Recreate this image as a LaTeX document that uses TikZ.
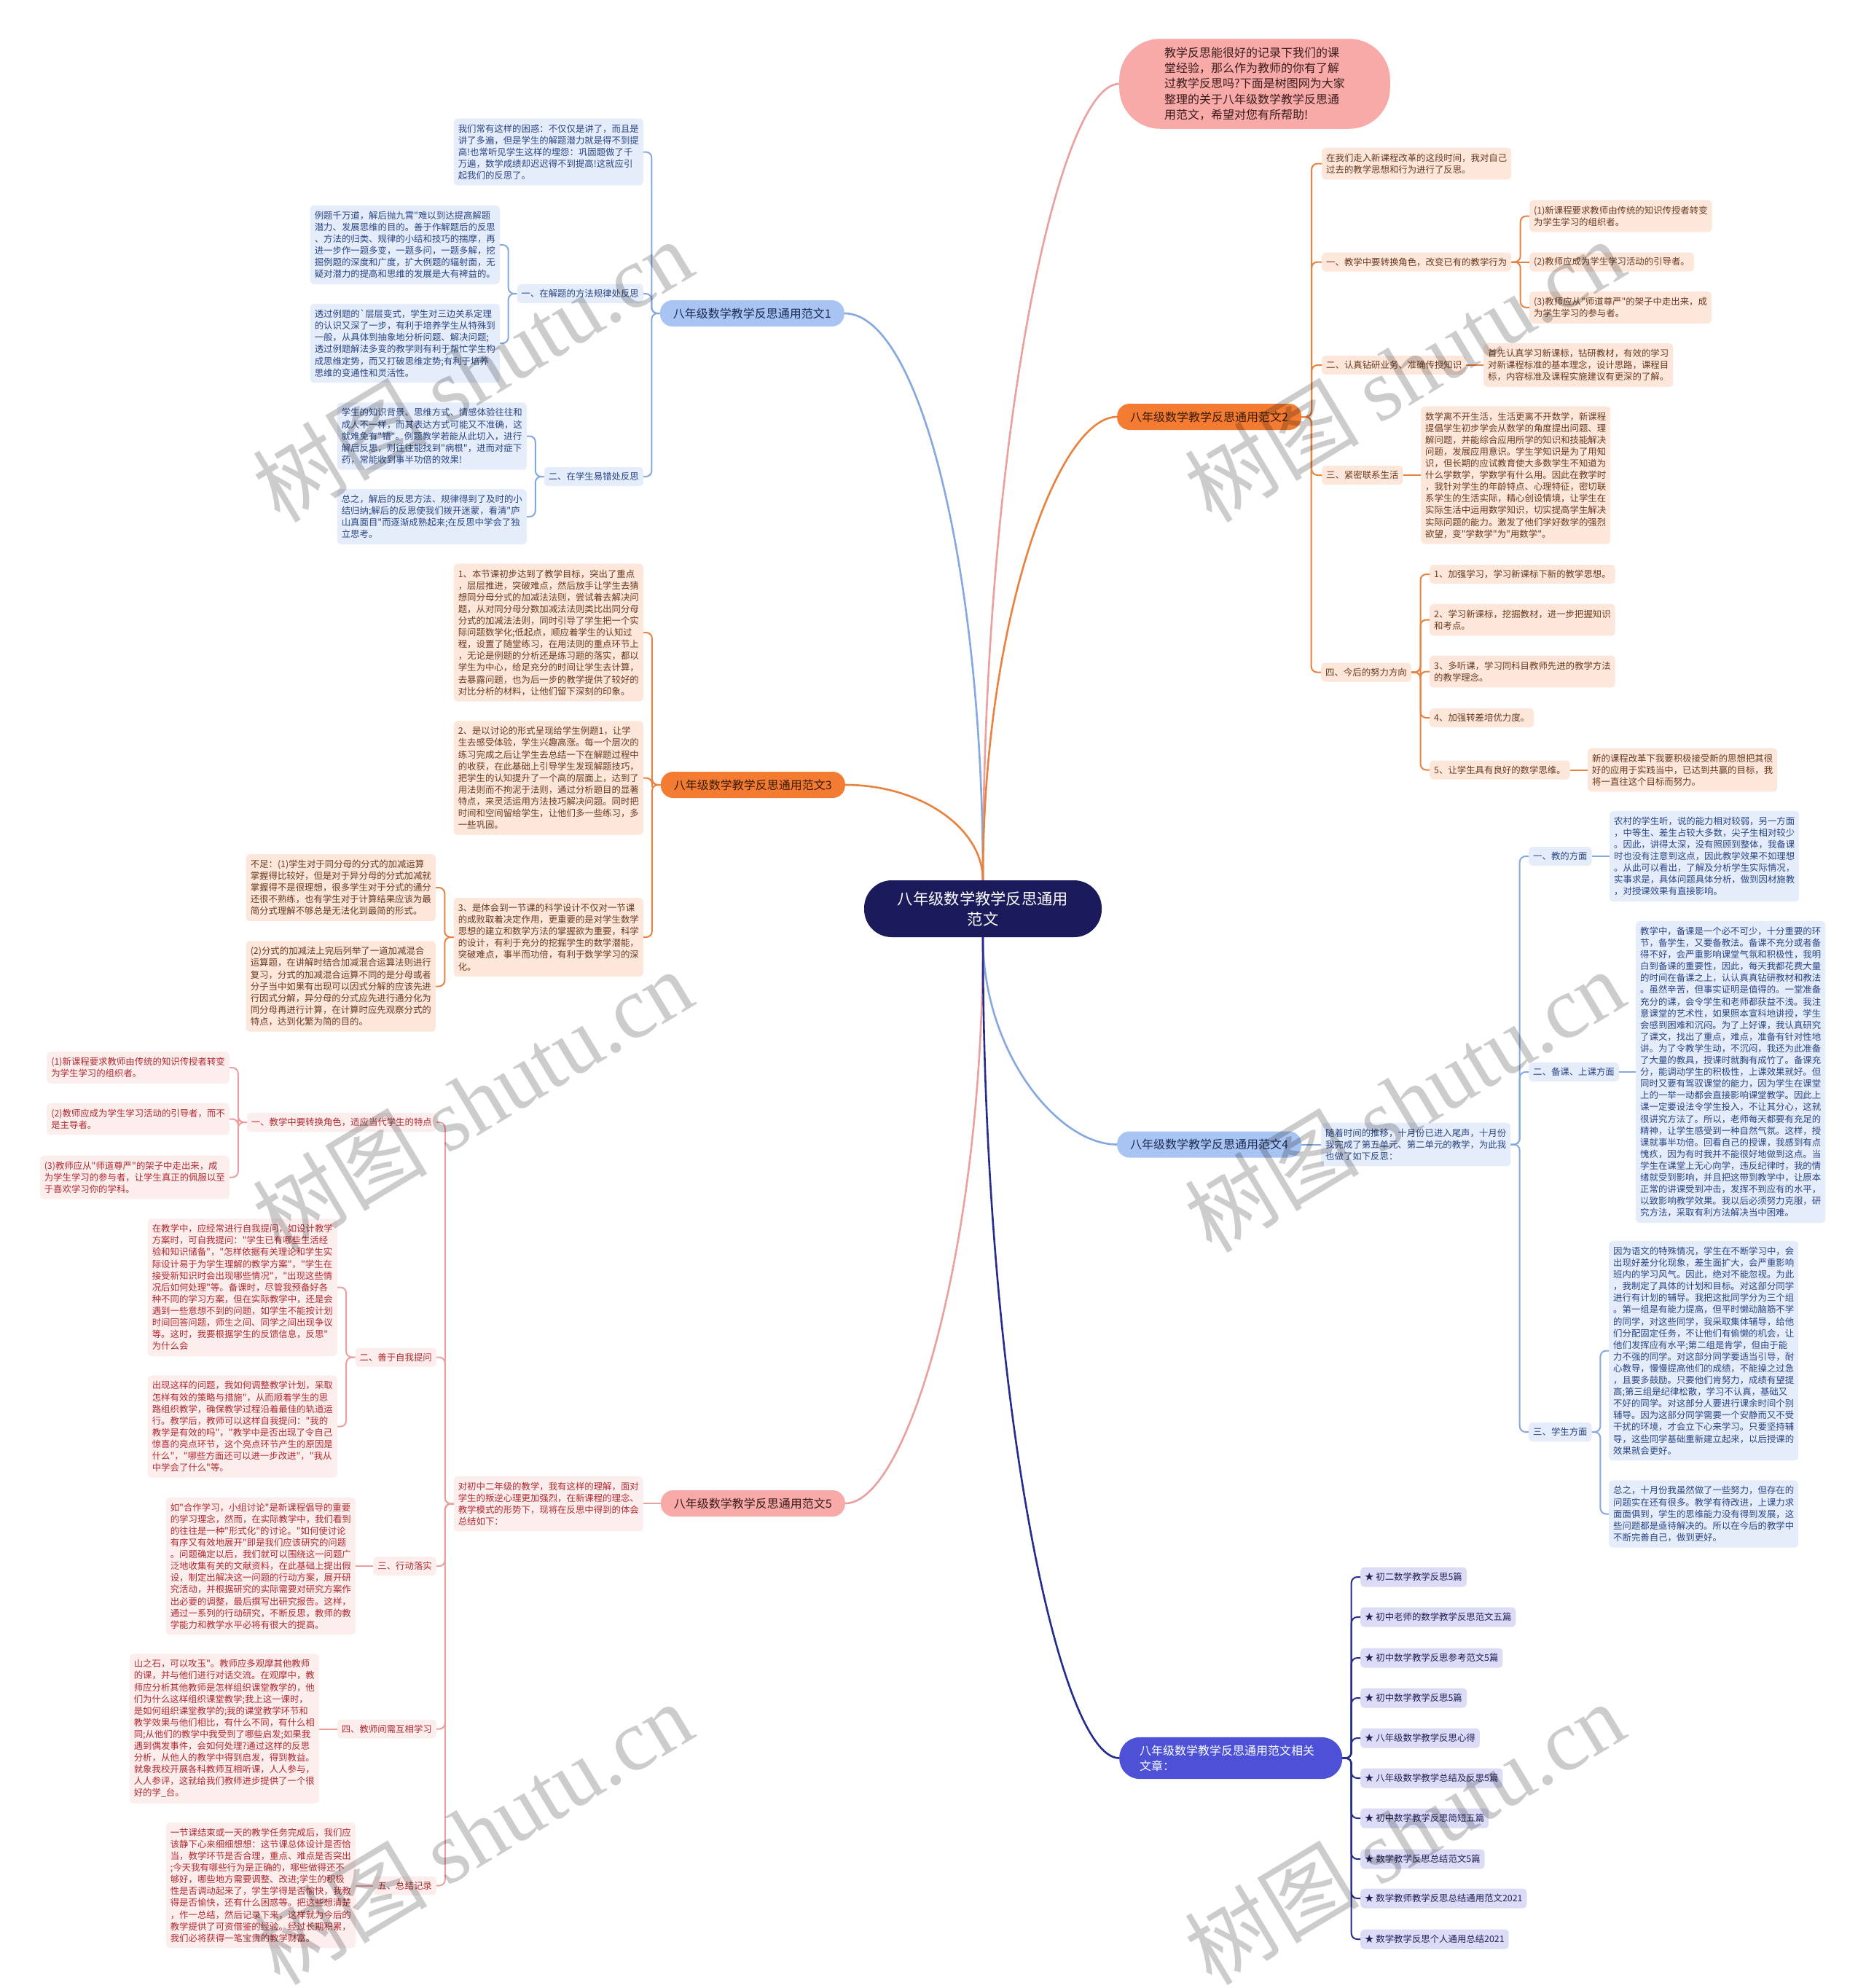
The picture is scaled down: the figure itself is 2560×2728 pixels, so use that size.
\documentclass[tikz,border=0pt]{standalone}
\usepackage{fontspec}
\newfontfamily\cjkf{Noto Sans CJK SC}
\newfontfamily\wmserif{Liberation Serif}
\usetikzlibrary{calc}
\definecolor{cBline}{HTML}{86A8E0}
\definecolor{cBfill}{HTML}{E5EDFB}
\definecolor{cBtext}{HTML}{2A4585}
\definecolor{cBlab}{HTML}{A8C4F2}
\definecolor{cBlabtext}{HTML}{1D2B55}
\definecolor{cOline}{HTML}{E8823F}
\definecolor{cOfill}{HTML}{FDE7DA}
\definecolor{cOtext}{HTML}{6A3A20}
\definecolor{cOlab}{HTML}{F47C32}
\definecolor{cOlabtext}{HTML}{3A1A08}
\definecolor{cPline}{HTML}{EBA0A0}
\definecolor{cPfill}{HTML}{FDEEEE}
\definecolor{cPtext}{HTML}{B02A30}
\definecolor{cPlab}{HTML}{F8AAA9}
\definecolor{cPlabtext}{HTML}{3A1C1C}
\definecolor{cNavy}{HTML}{1B1A5B}
\definecolor{cRlab}{HTML}{4C51D6}
\definecolor{cRline}{HTML}{262C8C}
\definecolor{cRfill}{HTML}{DCDCF6}
\definecolor{cRtext}{HTML}{20205A}
\newcommand\myfS{\cjkf\fontsize{12.4pt}{16.1pt}\selectfont}
\newcommand\myfM{\cjkf\fontsize{16pt}{21.3pt}\selectfont}
\newcommand\myfL{\cjkf\fontsize{21.3pt}{28pt}\selectfont}
\newcommand\lcon[3]{\draw[#1] (#2.west) -| ($(#2.west)!.5!(#3.east)$) |- (#3.east);}
\newcommand\rcon[3]{\draw[#1] (#2.east) -| ($(#2.east)!.5!(#3.west)$) |- (#3.west);}
\newcommand\lstr[3]{\draw[#1] (#2.west) -- (#2.west -| #3.east);}
\newcommand\rstr[3]{\draw[#1] (#2.east) -- (#2.east -| #3.west);}
\tikzset{
  leafbase/.style={inner xsep=6pt, inner ysep=8pt, rounded corners=5pt, align=left, font=\myfS},
  bleaf/.style={leafbase, fill=cBfill, text=cBtext},
  oleaf/.style={leafbase, fill=cOfill, text=cOtext},
  pleaf/.style={leafbase, fill=cPfill, text=cPtext},
  rleaf/.style={leafbase, fill=cRfill, text=cRtext, minimum height=27pt, inner ysep=3pt},
  blev/.style={bleaf, minimum height=26pt, inner ysep=3pt},
  olev/.style={oleaf, minimum height=26pt, inner ysep=3pt},
  plev/.style={pleaf, minimum height=26pt, inner ysep=3pt},
  labbase/.style={inner xsep=18pt, inner ysep=2pt, minimum height=36pt, rounded corners=17pt, font=\myfM},
  blab/.style={labbase, fill=cBlab, text=cBlabtext},
  olab/.style={labbase, fill=cOlab, text=cOlabtext},
  plab/.style={labbase, fill=cPlab, text=cPlabtext},
  centre/.style={fill=cNavy, text=white, font=\myfL, align=center, minimum width=326pt, minimum height=78pt, rounded corners=38pt, inner sep=0pt},
  bubble/.style={fill=cPlab, text=cPlabtext, font=\myfM, align=left, inner xsep=62pt, inner ysep=11.5pt, rounded corners=56pt},
  rlab/.style={fill=cRlab, text=white, font=\myfM, align=left, text width=250pt, inner xsep=28pt, inner ysep=10.5pt, rounded corners=28pt},
  bl/.style={draw=cBline, line width=2pt, rounded corners=8pt},
  ol/.style={draw=cOline, line width=2pt, rounded corners=8pt},
  pl/.style={draw=cPline, line width=2pt, rounded corners=8pt},
  rl/.style={draw=cRline, line width=2pt, rounded corners=8pt},
  mainline/.style={line width=2.6pt},
  wm/.style={text=black, text opacity=0.2, font=\cjkf\fontsize{120pt}{120pt}\selectfont, rotate=31, inner sep=0pt}
}
\begin{document}
\begin{tikzpicture}[x=1pt,y=-1pt]
\useasboundingbox (0,0) rectangle (2560,2728);
\fill[white] (0,0) rectangle (2560,2728);

% ---------- centre and top bubble ----------
\node[centre] (C) at (1349,1247) {八年级数学教学反思通用\\范文};
\node[bubble, anchor=west] (T) at (1536,115) {教学反思能很好的记录下我们的课\\堂经验，那么作为教师的你有了解\\过教学反思吗?下面是树图网为大家\\整理的关于八年级数学教学反思通\\用范文，希望对您有所帮助!};

% ---------- branch 1 ----------
\node[blab, anchor=east] (B1) at (1159,430) {八年级数学教学反思通用范文1};
\node[bleaf, anchor=east] (B1i) at (883,208.5) {我们常有这样的困惑：不仅仅是讲了，而且是\\讲了多遍，但是学生的解题潜力就是得不到提\\高!也常听见学生这样的埋怨：巩固题做了千\\万遍，数学成绩却迟迟得不到提高!这就应引\\起我们的反思了。};
\node[blev, anchor=east] (B1a) at (883,403) {一、在解题的方法规律处反思};
\node[bleaf, anchor=east] (B1a1) at (686,336) {例题千万道，解后抛九霄"难以到达提高解题\\潜力、发展思维的目的。善于作解题后的反思\\、方法的归类、规律的小结和技巧的揣摩，再\\进一步作一题多变，一题多问，一题多解，挖\\掘例题的深度和广度，扩大例题的辐射面，无\\疑对潜力的提高和思维的发展是大有裨益的。};
\node[bleaf, anchor=east] (B1a2) at (686,471) {透过例题的\symbol{96}层层变式，学生对三边关系定理\\的认识又深了一步，有利于培养学生从特殊到\\一般，从具体到抽象地分析问题、解决问题;\\透过例题解法多变的教学则有利于帮忙学生构\\成思维定势，而又打破思维定势;有利于培养\\思维的变通性和灵活性。};
\node[blev, anchor=east] (B1b) at (883,654) {二、在学生易错处反思};
\node[bleaf, anchor=east] (B1b1) at (723,598.5) {学生的知识背景、思维方式、情感体验往往和\\成人不一样，而其表达方式可能又不准确，这\\就难免有"错"。例题教学若能从此切入，进行\\解后反思，则往往能找到"病根"，进而对症下\\药，常能收到事半功倍的效果!};
\node[bleaf, anchor=east] (B1b2) at (723,709) {总之，解后的反思方法、规律得到了及时的小\\结归纳;解后的反思使我们拨开迷蒙，看清"庐\\山真面目"而逐渐成熟起来;在反思中学会了独\\立思考。};

% ---------- branch 3 ----------
\node[olab, anchor=east] (B3) at (1160,1077) {八年级数学教学反思通用范文3};
\node[oleaf, anchor=east] (B31) at (883,868) {1、本节课初步达到了教学目标，突出了重点\\，层层推进，突破难点，然后放手让学生去猜\\想同分母分式的加减法法则，尝试着去解决问\\题，从对同分母分数加减法法则类比出同分母\\分式的加减法法则，同时引导了学生把一个实\\际问题数学化;低起点，顺应着学生的认知过\\程，设置了随堂练习，在用法则的重点环节上\\，无论是例题的分析还是练习题的落实，都以\\学生为中心，给足充分的时间让学生去计算，\\去暴露问题，也为后一步的教学提供了较好的\\对比分析的材料，让他们留下深刻的印象。};
\node[oleaf, anchor=east] (B32) at (883,1067.5) {2、是以讨论的形式呈现给学生例题1，让学\\生去感受体验，学生兴趣高涨。每一个层次的\\练习完成之后让学生去总结一下在解题过程中\\的收获，在此基础上引导学生发现解题技巧，\\把学生的认知提升了一个高的层面上，达到了\\用法则而不拘泥于法则，通过分析题目的显著\\特点，来灵活运用方法技巧解决问题。同时把\\时间和空间留给学生，让他们多一些练习，多\\一些巩固。};
\node[oleaf, anchor=east] (B33) at (883,1286) {3、是体会到一节课的科学设计不仅对一节课\\的成败取着决定作用，更重要的是对学生数学\\思想的建立和数学方法的掌握欲为重要，科学\\的设计，有利于充分的挖掘学生的数学潜能，\\突破难点，事半而功倍，有利于数学学习的深\\化。};
\node[oleaf, anchor=east] (B33a) at (598,1218) {不足：(1)学生对于同分母的分式的加减运算\\掌握得比较好，但是对于异分母的分式加减就\\掌握得不是很理想，很多学生对于分式的通分\\还很不熟练，也有学生对于计算结果应该为最\\简分式理解不够总是无法化到最简的形式。};
\node[oleaf, anchor=east] (B33b) at (598,1353.5) {(2)分式的加减法上完后列举了一道加减混合\\运算题，在讲解时结合加减混合运算法则进行\\复习，分式的加减混合运算不同的是分母或者\\分子当中如果有出现可以因式分解的应该先进\\行因式分解，异分母的分式应先进行通分化为\\同分母再进行计算，在计算时应先观察分式的\\特点，达到化繁为简的目的。};

% ---------- branch 5 ----------
\node[plab, anchor=east] (B5) at (1160,2063) {八年级数学教学反思通用范文5};
\node[pleaf, anchor=east] (B5i) at (883,2063.5) {对初中二年级的教学，我有这样的理解，面对\\学生的叛逆心理更加强烈，在新课程的理念、\\教学模式的形势下，现将在反思中得到的体会\\总结如下：};
\node[plev, anchor=east] (B5a) at (599,1540) {一、教学中要转换角色，适应当代学生的特点};
\node[pleaf, anchor=east] (B5a1) at (315,1465) {(1)新课程要求教师由传统的知识传授者转变\\为学生学习的组织者。};
\node[pleaf, anchor=east] (B5a2) at (315,1535.5) {(2)教师应成为学生学习活动的引导者，而不\\是主导者。};
\node[pleaf, anchor=east] (B5a3) at (315,1615.5) {(3)教师应从"师道尊严"的架子中走出来，成\\为学生学习的参与者，让学生真正的佩服以至\\于喜欢学习你的学科。};
\node[plev, anchor=east] (B5b) at (599,1862.5) {二、善于自我提问};
\node[pleaf, anchor=east] (B5b1) at (463,1766.5) {在教学中，应经常进行自我提问，如设计教学\\方案时，可自我提问："学生已有哪些生活经\\验和知识储备"，"怎样依据有关理论和学生实\\际设计易于为学生理解的教学方案"，"学生在\\接受新知识时会出现哪些情况"，"出现这些情\\况后如何处理"等。备课时，尽管我预备好各\\种不同的学习方案，但在实际教学中，还是会\\遇到一些意想不到的问题，如学生不能按计划\\时间回答问题，师生之间、同学之间出现争议\\等。这时，我要根据学生的反馈信息，反思"\\为什么会};
\node[pleaf, anchor=east] (B5b2) at (463,1957.5) {出现这样的问题，我如何调整教学计划，采取\\怎样有效的策略与措施"，从而顺着学生的思\\路组织教学，确保教学过程沿着最佳的轨道运\\行。教学后，教师可以这样自我提问："我的\\教学是有效的吗"，"教学中是否出现了令自己\\惊喜的亮点环节，这个亮点环节产生的原因是\\什么"，"哪些方面还可以进一步改进"，"我从\\中学会了什么"等。};
\node[plev, anchor=east] (B5c) at (599,2149) {三、行动落实};
\node[pleaf, anchor=east] (B5c1) at (488,2149) {如"合作学习，小组讨论"是新课程倡导的重要\\的学习理念，然而，在实际教学中，我们看到\\的往往是一种"形式化"的讨论。"如何使讨论\\有序又有效地展开"即是我们应该研究的问题\\。问题确定以后，我们就可以围绕这一问题广\\泛地收集有关的文献资料，在此基础上提出假\\设，制定出解决这一问题的行动方案，展开研\\究活动，并根据研究的实际需要对研究方案作\\出必要的调整，最后撰写出研究报告。这样，\\通过一系列的行动研究，不断反思，教师的教\\学能力和教学水平必将有很大的提高。};
\node[plev, anchor=east] (B5d) at (599,2372.5) {四、教师间需互相学习};
\node[pleaf, anchor=east] (B5d1) at (438,2372) {山之石，可以攻玉"。教师应多观摩其他教师\\的课，并与他们进行对话交流。在观摩中，教\\师应分析其他教师是怎样组织课堂教学的，他\\们为什么这样组织课堂教学;我上这一课时，\\是如何组织课堂教学的;我的课堂教学环节和\\教学效果与他们相比，有什么不同，有什么相\\同;从他们的教学中我受到了哪些启发;如果我\\遇到偶发事件，会如何处理?通过这样的反思\\分析，从他人的教学中得到启发，得到教益。\\就象我校开展各科教师互相听课，人人参与，\\人人参评，这就给我们教师进步提供了一个很\\好的学\_台。};
\node[plev, anchor=east] (B5e) at (599,2587.5) {五、总结记录};
\node[pleaf, anchor=east] (B5e1) at (488,2587) {一节课结束或一天的教学任务完成后，我们应\\该静下心来细细想想：这节课总体设计是否恰\\当，教学环节是否合理，重点、难点是否突出\\;今天我有哪些行为是正确的，哪些做得还不\\够好，哪些地方需要调整、改进;学生的积极\\性是否调动起来了，学生学得是否愉快，我教\\得是否愉快，还有什么困惑等。把这些想清楚\\，作一总结，然后记录下来，这样就为今后的\\教学提供了可资借鉴的经验。经过长期积累，\\我们必将获得一笔宝贵的教学财富。};

% ---------- branch 2 ----------
\node[olab, anchor=west] (B2) at (1533,572) {八年级数学教学反思通用范文2};
\node[oleaf, anchor=west] (B2i) at (1814,224.5) {在我们走入新课程改革的这段时间，我对自己\\过去的教学思想和行为进行了反思。};
\node[olev, anchor=west] (B2a) at (1814,359.5) {一、教学中要转换角色，改变已有的教学行为};
\node[oleaf, anchor=west] (B2a1) at (2099,296.5) {(1)新课程要求教师由传统的知识传授者转变\\为学生学习的组织者。};
\node[olev, anchor=west] (B2a2) at (2099,359.5) {(2)教师应成为学生学习活动的引导者。};
\node[oleaf, anchor=west] (B2a3) at (2099,422) {(3)教师应从"师道尊严"的架子中走出来，成\\为学生学习的参与者。};
\node[olev, anchor=west] (B2b) at (1814,501) {二、认真钻研业务、准确传授知识};
\node[oleaf, anchor=west] (B2b1) at (2036,501) {首先认真学习新课标，钻研教材，有效的学习\\对新课程标准的基本理念，设计思路，课程目\\标，内容标准及课程实施建议有更深的了解。};
\node[olev, anchor=west] (B2c) at (1814,652) {三、紧密联系生活};
\node[oleaf, anchor=west] (B2c1) at (1950,652) {数学离不开生活，生活更离不开数学，新课程\\提倡学生初步学会从数学的角度提出问题、理\\解问题，并能综合应用所学的知识和技能解决\\问题，发展应用意识。学生学知识是为了用知\\识，但长期的应试教育使大多数学生不知道为\\什么学数学，学数学有什么用。因此在教学时\\，我针对学生的年龄特点、心理特征，密切联\\系学生的生活实际，精心创设情境，让学生在\\实际生活中运用数学知识，切实提高学生解决\\实际问题的能力。激发了他们学好数学的强烈\\欲望，变"学数学"为"用数学"。};
\node[olev, anchor=west] (B2d) at (1813,922.5) {四、今后的努力方向};
\node[olev, anchor=west] (B2d1) at (1962,788) {1、加强学习，学习新课标下新的教学思想。};
\node[oleaf, anchor=west] (B2d2) at (1962,850.5) {2、学习新课标，挖掘教材，进一步把握知识\\和考点。};
\node[oleaf, anchor=west] (B2d3) at (1962,921.5) {3、多听课，学习同科目教师先进的教学方法\\的教学理念。};
\node[olev, anchor=west] (B2d4) at (1962,985) {4、加强转差培优力度。};
\node[olev, anchor=west] (B2d5) at (1962,1056.5) {5、让学生具有良好的数学思维。};
\node[oleaf, anchor=west] (B2d5a) at (2179,1056.5) {新的课程改革下我要积极接受新的思想把其很\\好的应用于实践当中，已达到共赢的目标，我\\将一直往这个目标而努力。};

% ---------- branch 4 ----------
\node[blab, anchor=west] (B4) at (1533,1570.5) {八年级数学教学反思通用范文4};
\node[bleaf, anchor=west] (B4i) at (1813,1570.5) {随着时间的推移，十月份已进入尾声，十月份\\我完成了第五单元、第二单元的教学，为此我\\也做了如下反思：};
\node[blev, anchor=west] (B4a) at (2098,1175) {一、教的方面};
\node[bleaf, anchor=west] (B4a1) at (2209,1175) {农村的学生听，说的能力相对较弱，另一方面\\，中等生、差生占较大多数，尖子生相对较少\\。因此，讲得太深，没有照顾到整体，我备课\\时也没有注意到这点，因此教学效果不如理想\\。从此可以看出，了解及分析学生实际情况，\\实事求是，具体问题具体分析，做到因材施教\\，对授课效果有直接影响。};
\node[blev, anchor=west] (B4b) at (2098,1471) {二、备课、上课方面};
\node[bleaf, anchor=west] (B4b1) at (2245,1471) {教学中，备课是一个必不可少，十分重要的环\\节，备学生，又要备教法。备课不充分或者备\\得不好，会严重影响课堂气氛和积极性，我明\\白到备课的重要性，因此，每天我都花费大量\\的时间在备课之上，认认真真钻研教材和教法\\。虽然辛苦，但事实证明是值得的。一堂准备\\充分的课，会令学生和老师都获益不浅。我注\\意课堂的艺术性，如果照本宣科地讲授，学生\\会感到困难和沉闷。为了上好课，我认真研究\\了课文，找出了重点，难点，准备有针对性地\\讲。为了令教学生动，不沉闷，我还为此准备\\了大量的教具，授课时就胸有成竹了。备课充\\分，能调动学生的积极性，上课效果就好。但\\同时又要有驾驭课堂的能力，因为学生在课堂\\上的一举一动都会直接影响课堂教学。因此上\\课一定要设法令学生投入，不让其分心，这就\\很讲究方法了。所以，老师每天都要有充足的\\精神，让学生感受到一种自然气氛。这样，授\\课就事半功倍。回看自己的授课，我感到有点\\愧疚，因为有时我并不能很好地做到这点。当\\学生在课堂上无心向学，违反纪律时，我的情\\绪就受到影响，并且把这带到教学中，让原本\\正常的讲课受到冲击，发挥不到应有的水平，\\以致影响教学效果。我以后必须努力克服，研\\究方法，采取有利方法解决当中困难。};
\node[blev, anchor=west] (B4c) at (2098,1965) {三、学生方面};
\node[bleaf, anchor=west] (B4c1) at (2208,1853.5) {因为语文的特殊情况，学生在不断学习中，会\\出现好差分化现象，差生面扩大，会严重影响\\班内的学习风气。因此，绝对不能忽视。为此\\，我制定了具体的计划和目标。对这部分同学\\进行有计划的辅导。我把这批同学分为三个组\\。第一组是有能力提高，但平时懒动脑筋不学\\的同学，对这些同学，我采取集体辅导，给他\\们分配固定任务，不让他们有偷懒的机会，让\\他们发挥应有水平;第二组是肯学，但由于能\\力不强的同学。对这部分同学要适当引导，耐\\心教导，慢慢提高他们的成绩，不能操之过急\\，且要多鼓励。只要他们肯努力，成绩有望提\\高;第三组是纪律松散，学习不认真，基础又\\不好的同学。对这部分人要进行课余时间个别\\辅导。因为这部分同学需要一个安静而又不受\\干扰的环境，才会立下心来学习。只要坚持辅\\导，这些同学基础重新建立起来，以后授课的\\效果就会更好。};
\node[bleaf, anchor=west] (B4c2) at (2208,2077.5) {总之，十月份我虽然做了一些努力，但存在的\\问题实在还有很多。教学有待改进，上课力求\\面面俱到，学生的思维能力没有得到发展，这\\些问题都是亟待解决的。所以在今后的教学中\\不断完善自己，做到更好。};

% ---------- related ----------
\node[rlab, anchor=west] (R) at (1536,2412.5) {八年级数学教学反思通用范文相关\\文章：};
\node[rleaf, anchor=west] (R1) at (1867,2164) {★ 初二数学教学反思5篇};
\node[rleaf, anchor=west] (R2) at (1867,2219) {★ 初中老师的数学教学反思范文五篇};
\node[rleaf, anchor=west] (R3) at (1867,2275) {★ 初中数学教学反思参考范文5篇};
\node[rleaf, anchor=west] (R4) at (1867,2330) {★ 初中数学教学反思5篇};
\node[rleaf, anchor=west] (R5) at (1867,2385) {★ 八年级数学教学反思心得};
\node[rleaf, anchor=west] (R6) at (1867,2440) {★ 八年级数学教学总结及反思5篇};
\node[rleaf, anchor=west] (R7) at (1867,2495) {★ 初中数学教学反思简短五篇};
\node[rleaf, anchor=west] (R8) at (1867,2551) {★ 数学教学反思总结范文5篇};
\node[rleaf, anchor=west] (R9) at (1867,2605) {★ 数学教师教学反思总结通用范文2021};
\node[rleaf, anchor=west] (R10) at (1867,2661) {★ 数学教学反思个人通用总结2021};

% ---------- main curves ----------
\draw[mainline, draw=cPline] (C.north) .. controls (1349,605) and (1452,115) .. (T.west);
\draw[mainline, draw=cBline] (C.north) .. controls (1349,779) and (1262,430) .. (B1.east);
\draw[mainline, draw=cOline] (C.north) .. controls (1349,857) and (1451,572) .. (B2.west);
\draw[mainline, draw=cOline] (C.north) .. controls (1349,1136) and (1263,1077) .. (B3.east);
\draw[mainline, draw=cBline] (C.south) .. controls (1349,1443) and (1451,1570.5) .. (B4.west);
\draw[mainline, draw=cPline] (C.south) .. controls (1349,1715) and (1245,2063) .. (B5.east);
\draw[mainline, draw=cRline] (C.south) .. controls (1349,1908) and (1452,2412.5) .. (R.west);

% ---------- branch connectors ----------
\lcon{bl}{B1}{B1i}
\lcon{bl}{B1}{B1a}
\lcon{bl}{B1}{B1b}
\lcon{bl}{B1a}{B1a1}
\lcon{bl}{B1a}{B1a2}
\lcon{bl}{B1b}{B1b1}
\lcon{bl}{B1b}{B1b2}

\lcon{ol}{B3}{B31}
\lcon{ol}{B3}{B32}
\lcon{ol}{B3}{B33}
\lcon{ol}{B33}{B33a}
\lcon{ol}{B33}{B33b}

\lstr{pl}{B5}{B5i}
\lcon{pl}{B5i}{B5a}
\lcon{pl}{B5i}{B5b}
\lcon{pl}{B5i}{B5c}
\lcon{pl}{B5i}{B5d}
\lcon{pl}{B5i}{B5e}
\lcon{pl}{B5a}{B5a1}
\lcon{pl}{B5a}{B5a2}
\lcon{pl}{B5a}{B5a3}
\lcon{pl}{B5b}{B5b1}
\lcon{pl}{B5b}{B5b2}
\lstr{pl}{B5c}{B5c1}
\lstr{pl}{B5d}{B5d1}
\lstr{pl}{B5e}{B5e1}

\rcon{ol}{B2}{B2i}
\rcon{ol}{B2}{B2a}
\rcon{ol}{B2}{B2b}
\rcon{ol}{B2}{B2c}
\rcon{ol}{B2}{B2d}
\rcon{ol}{B2a}{B2a1}
\rstr{ol}{B2a}{B2a2}
\rcon{ol}{B2a}{B2a3}
\rstr{ol}{B2b}{B2b1}
\rstr{ol}{B2c}{B2c1}
\rcon{ol}{B2d}{B2d1}
\rcon{ol}{B2d}{B2d2}
\rcon{ol}{B2d}{B2d3}
\rcon{ol}{B2d}{B2d4}
\rcon{ol}{B2d}{B2d5}
\rstr{ol}{B2d5}{B2d5a}

\rstr{bl}{B4}{B4i}
\rcon{bl}{B4i}{B4a}
\rcon{bl}{B4i}{B4b}
\rcon{bl}{B4i}{B4c}
\rstr{bl}{B4a}{B4a1}
\rstr{bl}{B4b}{B4b1}
\rcon{bl}{B4c}{B4c1}
\rcon{bl}{B4c}{B4c2}

\foreach \i in {1,...,10} {\rcon{rl}{R}{R\i}}

% ---------- watermarks ----------
\node[wm] (W1) at (648,508) {树图 {\wmserif shutu.cn}};
\node[wm] (W2) at (1927,508) {树图 {\wmserif shutu.cn}};
\node[wm] (W3) at (648,1510) {树图 {\wmserif shutu.cn}};
\node[wm] (W4) at (1927,1510) {树图 {\wmserif shutu.cn}};
\node[wm] (W5) at (648,2515) {树图 {\wmserif shutu.cn}};
\node[wm] (W6) at (1927,2515) {树图 {\wmserif shutu.cn}};
\end{tikzpicture}
\end{document}
